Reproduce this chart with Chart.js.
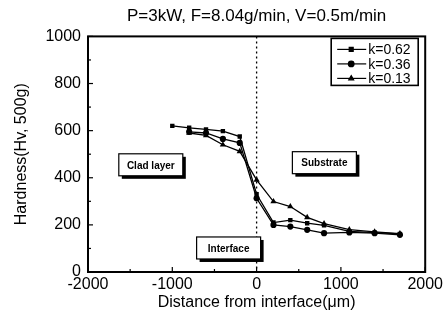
<!DOCTYPE html>
<html>
<head>
<meta charset="utf-8">
<script src="https://cdn.jsdelivr.net/npm/chart.js@4.4.0/dist/chart.umd.min.js"></script>
<style>
html,body{margin:0;padding:0;background:#fff;}
#wrap{width:446px;height:323px;position:relative;}
</style>
</head>
<body>
<div id="wrap"><canvas id="c" width="446" height="323"></canvas></div>
<script>
// ---- data ----
const seriesNames = ["k=0.62", "k=0.36", "k=0.13"];
const xK062 = [-1000, -800, -600, -400, -200, 0, 200, 400, 600, 800, 1100, 1400, 1700];
const yK062 = [620, 612, 605, 598, 575, 330, 210, 220, 207, 198, 172, 167, 162];
const xK036 = [-800, -600, -400, -200, 0, 200, 400, 600, 800, 1100, 1400, 1700];
const yK036 = [595, 590, 565, 548, 313, 200, 193, 179, 165, 168, 165, 158];
const xK013 = [-800, -600, -400, -200, 0, 200, 400, 600, 800, 1100, 1400, 1700];
const yK013 = [590, 580, 540, 512, 391, 299, 278, 232, 205, 180, 170, 163];
const xTicks = [-2000, -1000, 0, 1000, 2000];
const yTicks = [0, 200, 400, 600, 800, 1000];
const regionLabels = ["Clad layer", "Substrate", "Interface"];
const regionAnchorX = [-1255, 804, -332];
const regionAnchorY = [455, 464, 102];

const FONT = "'Liberation Sans', Arial, sans-serif";
const pts = (xs, ys) => xs.map((x, i) => ({x: x, y: ys[i]}));
const styles = ['rect', 'circle', 'triangle'];

const datasets = [pts(xK062, yK062), pts(xK036, yK036), pts(xK013, yK013)].map((d, i) => ({
  label: seriesNames[i],
  data: d,
  showLine: true,
  borderColor: '#000',
  backgroundColor: '#000',
  borderWidth: 1.3,
  pointStyle: styles[i],
  pointRadius: i === 2 ? 3.6 : 3.1,
  pointBorderWidth: 0,
  tension: 0
}));

const decor = {
  id: 'decor',
  afterDatasetsDraw(chart) {
    const {ctx, chartArea: a, scales: {x, y}} = chart;
    ctx.save();
    ctx.strokeStyle = '#000';
    ctx.lineWidth = 2;
    ctx.strokeRect(a.left, a.top, a.right - a.left, a.bottom - a.top);
    ctx.lineWidth = 1.2;
    for (let v = -2000; v <= 2000; v += 500) {
      const px = x.getPixelForValue(v);
      const len = (v % 1000 === 0) ? 5 : 3;
      ctx.beginPath(); ctx.moveTo(px, a.bottom); ctx.lineTo(px, a.bottom - len); ctx.stroke();
    }
    for (let v = 0; v <= 1000; v += 100) {
      const py = y.getPixelForValue(v);
      const len = (v % 200 === 0) ? 5 : 3;
      ctx.beginPath(); ctx.moveTo(a.left, py); ctx.lineTo(a.left + len, py); ctx.stroke();
    }
    const x0 = x.getPixelForValue(0);
    ctx.setLineDash([2, 3]);
    ctx.lineWidth = 1.3;
    ctx.beginPath(); ctx.moveTo(x0, a.top); ctx.lineTo(x0, a.bottom); ctx.stroke();
    ctx.setLineDash([]);
    ctx.font = "bold 10px " + FONT;
    ctx.textAlign = 'center';
    ctx.textBaseline = 'middle';
    regionLabels.forEach((t, i) => {
      const cx = x.getPixelForValue(regionAnchorX[i]);
      const cy = y.getPixelForValue(regionAnchorY[i]);
      const w = 64, h = 22;
      ctx.fillStyle = '#000';
      ctx.fillRect(cx - w / 2 + 3, cy - h / 2 + 3, w, h);
      ctx.fillStyle = '#fff';
      ctx.fillRect(cx - w / 2, cy - h / 2, w, h);
      ctx.lineWidth = 1.2;
      ctx.strokeRect(cx - w / 2, cy - h / 2, w, h);
      ctx.fillStyle = '#000';
      ctx.fillText(t, cx, cy + 1);
    });
    // legend
    const lx = a.right - 94, ly = a.top + 2, lw = 87, lh = 47;
    ctx.fillStyle = '#fff';
    ctx.fillRect(lx, ly, lw, lh);
    ctx.lineWidth = 1.6;
    ctx.strokeRect(lx, ly, lw, lh);
    ctx.font = "14px " + FONT;
    ctx.textAlign = 'left';
    chart.data.datasets.forEach((ds, i) => {
      const ry = ly + 11 + i * 14.5;
      ctx.strokeStyle = '#000';
      ctx.fillStyle = '#000';
      ctx.lineWidth = 1.2;
      ctx.beginPath(); ctx.moveTo(lx + 6, ry); ctx.lineTo(lx + 35, ry); ctx.stroke();
      Chart.helpers.drawPoint(ctx, {pointStyle: ds.pointStyle, radius: 2.8, borderWidth: 0.1}, lx + 20, ry);
      ctx.fillStyle = '#000';
      ctx.fillText(ds.label, lx + 37, ry + 1);
    });
    ctx.restore();
  }
};

new Chart(document.getElementById('c'), {
  type: 'scatter',
  data: {datasets: datasets},
  plugins: [decor],
  options: {
    responsive: false,
    animation: false,
    layout: {padding: {top: 0, right: 20, left: 0, bottom: 0}},
    plugins: {
      legend: {display: false},
      tooltip: {enabled: false},
      title: {
        display: true,
        fullSize: false,
        text: 'P=3kW, F=8.04g/min, V=0.5m/min',
        color: '#000',
        font: {family: FONT, size: 17, weight: 'normal'},
        padding: {top: 6, bottom: 10}
      }
    },
    scales: {
      x: {
        type: 'linear', min: -2000, max: 2000,
        afterBuildTicks: s => { s.ticks = xTicks.map(v => ({value: v})); },
        afterFit: s => { s.height = 51; },
        grid: {display: false, drawTicks: false},
        border: {display: false},
        ticks: {color: '#000', font: {family: FONT, size: 16}, padding: 3, maxRotation: 0,
                callback: v => String(v)},
        title: {display: true, text: 'Distance from interface(\u03bcm)', color: '#000',
                font: {family: FONT, size: 16}, padding: {top: 0, bottom: 11}}
      },
      y: {
        min: 0, max: 1000,
        afterBuildTicks: s => { s.ticks = yTicks.map(v => ({value: v})); },
        afterFit: s => { s.width = 88; },
        grid: {display: false, drawTicks: false},
        border: {display: false},
        ticks: {color: '#000', font: {family: FONT, size: 16}, padding: 7,
                callback: v => String(v)},
        title: {display: true, text: 'Hardness(Hv, 500g)', color: '#000',
                font: {family: FONT, size: 16}, padding: {top: 12, bottom: 0}}
      }
    }
  }
});
</script>
</body>
</html>
